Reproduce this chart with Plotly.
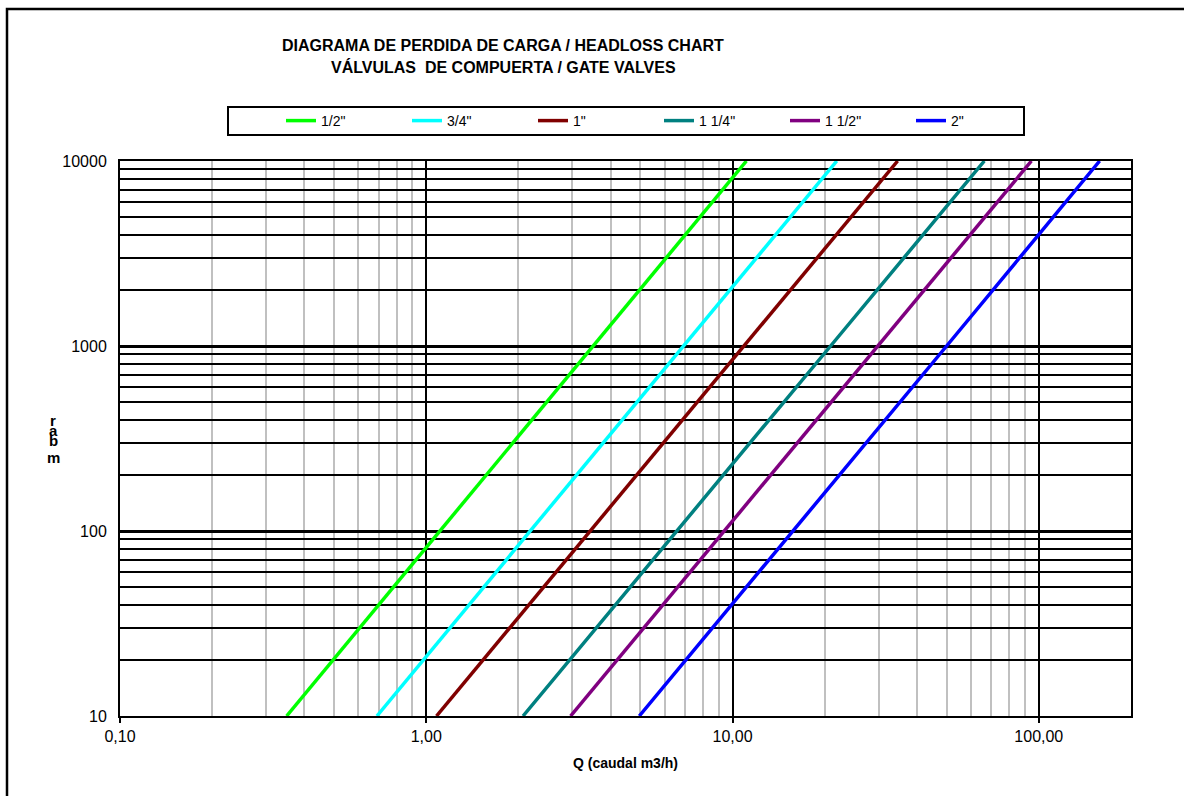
import plotly.graph_objects as go

# ---- data ----
sizes = ['1/2"', '3/4"', '1"', '1 1/4"', '1 1/2"', '2"']
colors = ["#00FF00", "#00FFFF", "#800000", "#008080", "#800080", "#0000FF"]
headloss_mbar = [10, 100, 1000, 10000]
flow_half = [0.35, 1.11, 3.5, 11.1]
flow_three_quarter = [0.69, 2.19, 6.9, 21.9]
flow_one = [1.08, 3.43, 10.9, 34.6]
flow_one_quarter = [2.07, 6.6, 20.9, 66.4]
flow_one_half = [2.96, 9.4, 29.8, 94.6]
flow_two = [4.96, 15.8, 50.0, 158.0]
flows = [flow_half, flow_three_quarter, flow_one, flow_one_quarter, flow_one_half, flow_two]

x_major = [0.1, 1, 10, 100]
x_major_text = ["0,10", "1,00", "10,00", "100,00"]
y_major = [10, 100, 1000, 10000]
y_major_text = ["10", "100", "1000", "10000"]
x_minor = [m * d for d in (0.1, 1, 10) for m in range(2, 10)]
y_minor = [m * d for d in (10, 100, 1000) for m in range(2, 10)]

FONT = "Liberation Sans, Arial, sans-serif"

fig = go.Figure()
for name, col, q in zip(sizes, colors, flows):
    fig.add_trace(go.Scatter(x=q, y=headloss_mbar, mode="lines", name=name,
                             line=dict(color=col, width=3.5)))

# plot area: x 120..1131, y 161..716
L, R, T, B = 120, 1131, 161, 716
W, H = R - L, B - T
def px(x):
    return (x - L) / W
def py(y):
    return (B - y) / H

fig.update_layout(
    width=1184, height=796,
    margin=dict(l=L, r=1184 - R, t=T, b=796 - B),
    paper_bgcolor="white", plot_bgcolor="white",
    font=dict(family=FONT, size=16, color="black"),
    showlegend=True,
    legend=dict(orientation="h", x=px(281), xanchor="left", y=py(121), yanchor="middle",
                entrywidth=81, entrywidthmode="pixels", bgcolor="rgba(0,0,0,0)",
                borderwidth=0, font=dict(size=14, family=FONT), itemwidth=30,
                tracegroupgap=0),
    xaxis=dict(type="log", range=[-1, 2.30103], tickvals=x_major, ticktext=x_major_text,
               showgrid=True, gridcolor="black", gridwidth=1.5,
               showline=True, linecolor="black", linewidth=2, mirror=True,
               ticks="outside", ticklen=5, tickwidth=1.5, tickcolor="black",
               tickfont=dict(size=16), zeroline=False,
               minor=dict(tickvals=x_minor, showgrid=True, gridcolor="#C0C0C0", gridwidth=1.5,
                          ticks=""),
               title=dict(text="<b>Q (caudal m3/h)</b>", font=dict(size=14), standoff=14)),
    yaxis=dict(type="log", range=[1, 4], tickvals=y_major, ticktext=y_major_text,
               showgrid=True, gridcolor="black", gridwidth=3,
               showline=True, linecolor="black", linewidth=2, mirror=True,
               ticks="", ticklabelstandoff=8, tickfont=dict(size=16), zeroline=False,
               minor=dict(tickvals=y_minor, showgrid=True, gridcolor="black", gridwidth=1.5,
                          ticks="")),
)

# title
fig.add_annotation(text="<b>DIAGRAMA DE PERDIDA DE CARGA / HEADLOSS CHART</b>",
                   xref="paper", yref="paper", x=px(503), y=py(46), showarrow=False,
                   xanchor="center", yanchor="middle", font=dict(size=16))
fig.add_annotation(text="<b>VÁLVULAS  DE COMPUERTA / GATE VALVES</b>",
                   xref="paper", yref="paper", x=px(503), y=py(67), showarrow=False,
                   xanchor="center", yanchor="middle", font=dict(size=16))

# y-axis title (stacked letters as in the reference)
for ch, yy in zip(["r", "a", "b", "m"], [420, 430, 440, 457]):
    fig.add_annotation(text="<b>" + ch + "</b>", xref="paper", yref="paper",
                       x=px(53), y=py(yy), showarrow=False, xanchor="center",
                       yanchor="middle", font=dict(size=15))

# legend frame and outer chart frame
fig.add_shape(type="rect", xref="paper", yref="paper", x0=px(228), x1=px(1024),
              y0=py(135), y1=py(107), line=dict(color="black", width=2), layer="above")
fig.add_shape(type="rect", xref="paper", yref="paper", x0=px(7), x1=px(1260),
              y0=py(860), y1=py(9), line=dict(color="black", width=2.5), layer="above")

fig.write_html("out.html", config={"displayModeBar": False},
               post_script="document.body.style.margin='0';")
